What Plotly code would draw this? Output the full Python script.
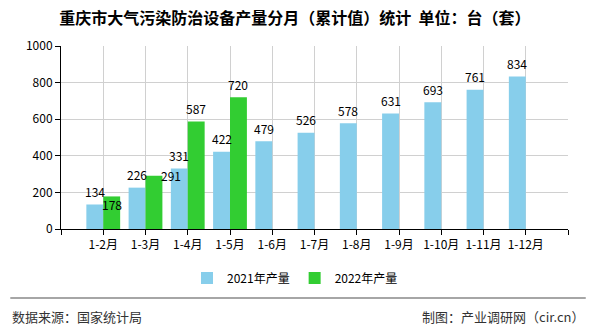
import plotly.graph_objects as go

categories = ["1-2月", "1-3月", "1-4月", "1-5月", "1-6月", "1-7月", "1-8月",
              "1-9月", "1-10月", "1-11月", "1-12月"]
values_2021 = [134, 226, 331, 422, 479, 526, 578, 631, 693, 761, 834]
values_2022 = [178, 291, 587, 720]
series_names = ["2021年产量", "2022年产量"]
y_ticks = [0, 200, 400, 600, 800, 1000]

FONT = "Noto Sans CJK SC, Noto Sans, sans-serif"
C21 = "#87CEEB"
C22 = "#32CD32"

x21 = [i + 1 for i in range(len(values_2021))]
x22 = [i + 1 for i in range(len(values_2022))]

fig = go.Figure()
fig.add_trace(go.Bar(x=x21, y=values_2021, name=series_names[0], marker_color=C21,
                     marker_line_width=0, offset=-0.4, width=0.4))
fig.add_trace(go.Bar(x=x22, y=values_2022, name=series_names[1], marker_color=C22,
                     marker_line_width=0, offset=0.0, width=0.4))

ann = []
for x, v in zip(x21, values_2021):
    ann.append(dict(x=x - 0.2, y=v, text=str(v), showarrow=False, yshift=13,
                    font=dict(size=12, color="#000", family=FONT)))
special = {0: (0, -8), 1: (17, 0)}
for i, (x, v) in enumerate(zip(x22, values_2022)):
    xs, ys = special.get(i, (0, 13))
    ann.append(dict(x=x + 0.2, y=v, text=str(v), showarrow=False, yshift=ys, xshift=xs,
                    font=dict(size=12, color="#000", family=FONT)))

ann.append(dict(xref="paper", yref="paper", x=-0.100, y=-0.48, xanchor="left", yanchor="middle",
                text="数据来源：国家统计局", showarrow=False,
                font=dict(size=13, color="#333", family=FONT)))
ann.append(dict(xref="paper", yref="paper", x=1.035, y=-0.48, xanchor="right", yanchor="middle",
                text="制图：产业调研网（cir.cn）", showarrow=False,
                font=dict(size=13, color="#333", family=FONT)))

fig.update_layout(
    width=590, height=330,
    margin=dict(l=61, r=22, t=46, b=101),
    paper_bgcolor="white", plot_bgcolor="white",
    barmode="overlay",
    title=dict(text="<b>重庆市大气污染防治设备产量分月（累计值）统计  单位：台（套）</b>",
               x=0.5, xref="container", xanchor="center",
               y=1 - 18 / 330, yref="container", yanchor="middle",
               font=dict(size=16, color="#000", family=FONT)),
    xaxis=dict(range=[0, 12], tickvals=list(range(13)),
               ticktext=[""] + categories + [""],
               showgrid=True, gridcolor="#d0d0d0", gridwidth=1,
               showline=True, linecolor="#000", linewidth=1,
               ticks="outside", ticklen=5, tickcolor="#000",
               tickfont=dict(size=12, color="#000", family=FONT), zeroline=False),
    yaxis=dict(range=[0, 1000], tickvals=y_ticks,
               showgrid=True, gridcolor="#d0d0d0", gridwidth=1,
               showline=True, linecolor="#000", linewidth=1,
               ticks="outside", ticklen=5, tickcolor="#000",
               tickfont=dict(size=12, color="#000", family=FONT), zeroline=False),
    legend=dict(orientation="h", xref="container", yref="container",
                x=0.5, xanchor="center", y=1 - 278 / 330, yanchor="middle",
                font=dict(size=12, color="#000", family=FONT),
                itemwidth=30),
    annotations=ann,
    shapes=[dict(type="line", xref="paper", yref="paper", x0=-0.1, x1=1.035,
                 y0=-0.377, y1=-0.377, line=dict(color="#888", width=1.5))],
)

fig.write_html("out.html")
